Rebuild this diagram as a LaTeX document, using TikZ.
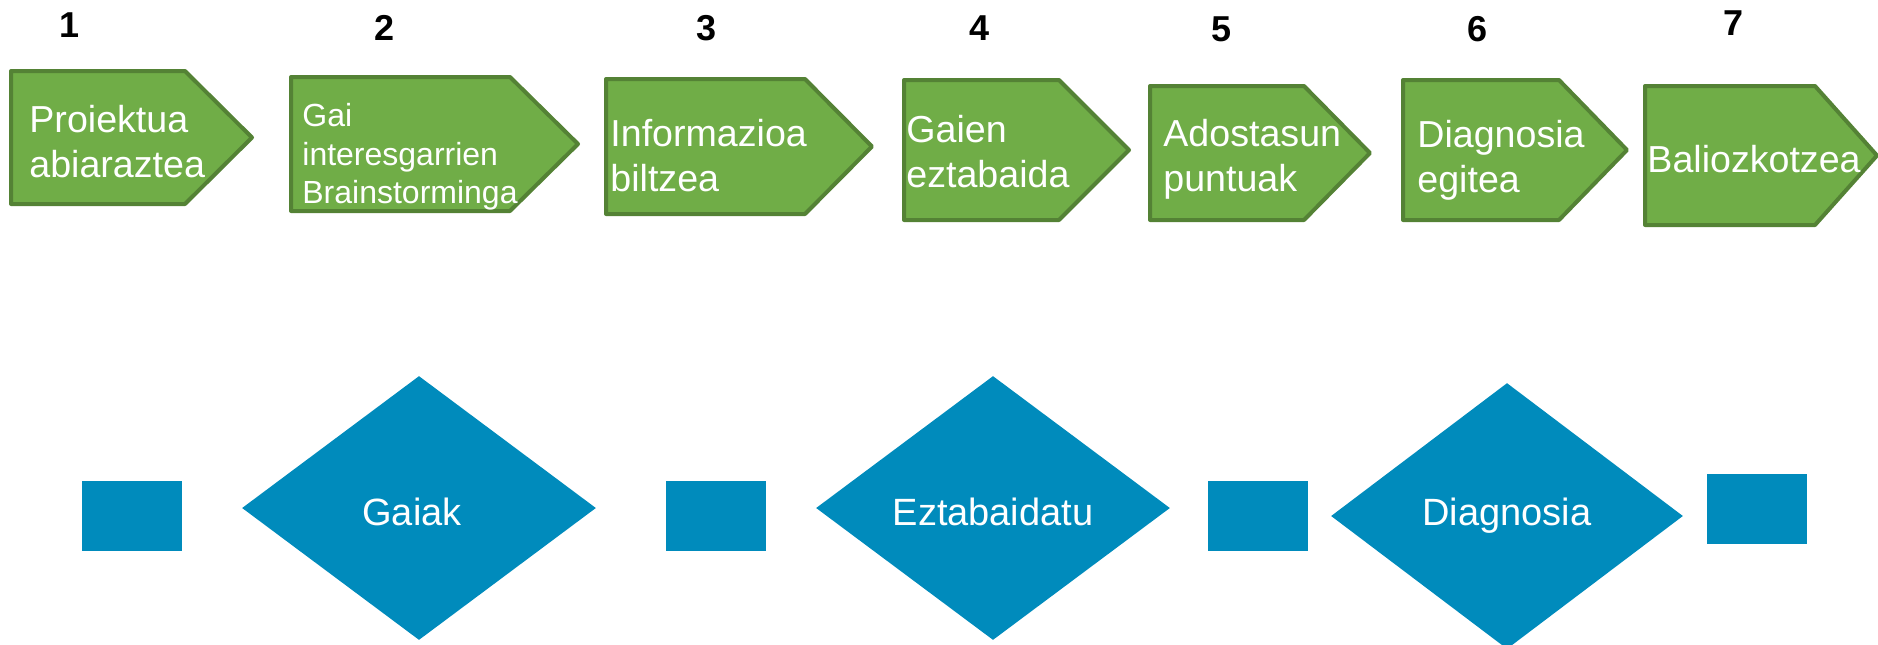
\documentclass[tikz,border=0pt]{standalone}
\usepackage{fontspec}
\setmainfont{Liberation Sans}
\usetikzlibrary{shapes.geometric}
\definecolor{stepgreen}{RGB}{112,173,71}
\definecolor{stepedge}{RGB}{84,130,53}
\definecolor{phaseblue}{RGB}{0,139,188}
\tikzset{
  steparrow/.style={fill=stepgreen, draw=stepedge, line width=2pt, line join=round},
  steptext/.style={anchor=west, align=left, inner sep=0pt, text=white,
    font=\fontsize{18.8}{22.5}\selectfont},
  stepnum/.style={inner sep=0pt, font=\fontsize{18}{21}\selectfont\bfseries},
  phasebox/.style={rectangle, fill=phaseblue, inner sep=0pt,
    minimum width=50pt, minimum height=35pt},
  phase/.style={diamond, fill=phaseblue, text=white, inner sep=0pt,
    font=\fontsize{19}{22}\selectfont}
}

\begin{document}
\begin{tikzpicture}[x=0.5pt,y=-0.5pt]
  \useasboundingbox (0,0) rectangle (1878,644);

  % Step numbers
  \foreach \i/\x/\y in {1/70/25, 2/385/28, 3/707/28, 4/979/28, 5/1221/29, 6/1477/29, 7/1733/23}
    \node[stepnum] (num\i) at (\x,\y) {\i};

  % Step arrows: left/top/bottom/body end/tip
  \foreach \l/\t/\b/\e/\p in {11/71/204/185/252, 291/77/211/510/578, 606/79/214/805/872,
      904/80/220/1059/1129, 1150/86/220/1304/1370, 1403/80/220/1559/1627, 1645/86/225/1815/1877}
    \draw[steparrow] (\l,\t) -- (\e,\t) -- (\p,{(\t+\b)/2}) -- (\e,\b) -- (\l,\b) -- cycle;

  % Step labels
  \node[steptext] (step1) at (29,142) {Proiektua\\abiaraztea};
  \node[steptext, font=\fontsize{16}{19.3}\selectfont] (step2) at (302,157) {Gai\\interesgarrien\\Brainstorminga};
  \foreach \i/\x/\y/\txt in {3/610/156/{Informazioa\\biltzea}, 4/906/152/{Gaien\\eztabaida},
      5/1163/159/{Adostasun\\puntuak}, 6/1417/160/{Diagnosia\\egitea}, 7/1647/159/{Baliozkotzea}}
    \node[steptext] (step\i) at (\x,\y) {\txt};

  % Phases below
  \node[phasebox] (box1) at (132,516) {};
  \node[phase, text height=17pt, text depth=0pt, minimum width=177pt, minimum height=132pt] (gaiak) at (419,508) {Gaiak\hspace*{7pt}};
  \node[phasebox] (box2) at (716,516) {};
  \node[phase, text height=17pt, text depth=0pt, minimum width=177pt, minimum height=132pt] (eztabaidatu) at (993,508) {Eztabaidatu};
  \node[phasebox] (box3) at (1258,516) {};
  \node[phase, minimum width=176pt, minimum height=133pt] (diagnosia) at (1507,516) {Diagnosia};
  \node[phasebox] (box4) at (1757,509) {};
\end{tikzpicture}
\end{document}
